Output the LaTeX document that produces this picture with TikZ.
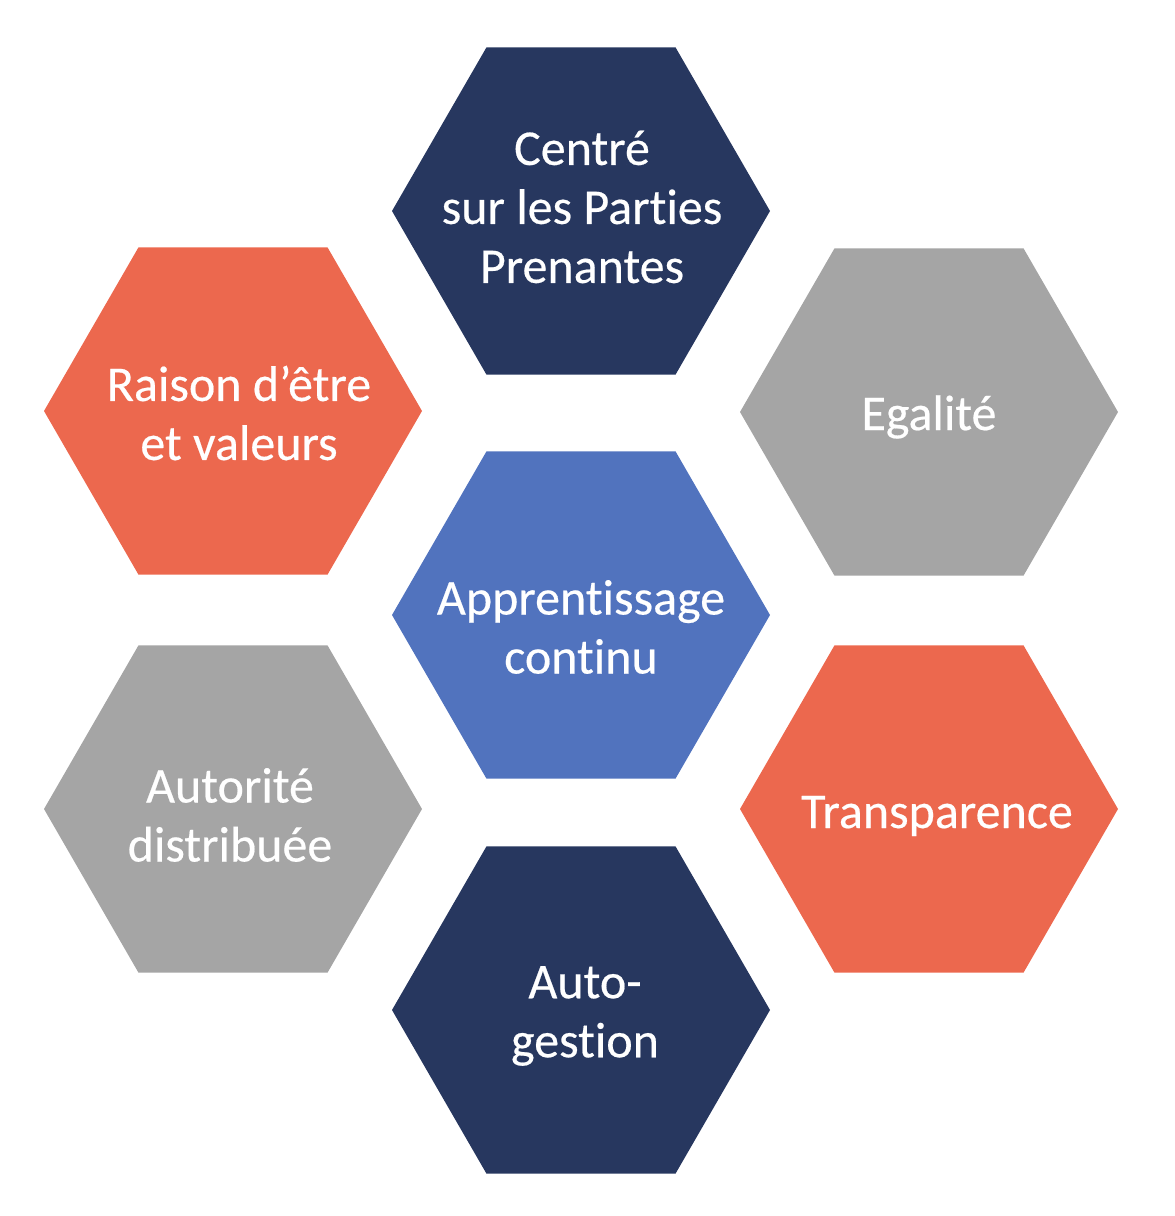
\documentclass[tikz,border=0pt]{standalone}
\usepackage{fontspec}
\setmainfont[Ligatures=NoCommon,FakeBold=0.4]{Carlito}
\usetikzlibrary{shapes.geometric}
\definecolor{navy}{HTML}{27375F}
\definecolor{coral}{HTML}{EC684E}
\definecolor{greyhex}{HTML}{A5A5A5}
\definecolor{bluehex}{HTML}{5173BE}
\tikzset{
  hexa/.style={regular polygon,regular polygon sides=6,minimum size=189pt,inner sep=0pt,outer sep=0pt,draw=none},
  hextext/.style={text=white,align=center,font=\fontsize{25}{29.5}\selectfont}
}
\begin{document}
\begin{tikzpicture}[x=0.5pt,y=-0.5pt]
				\useasboundingbox (0,0) rectangle (1174,1216);
				\node[hexa,fill=navy] (top) at (581,211){};
				\node[hexa,fill=bluehex] (mid) at (581,615){};
				\node[hexa,fill=navy] (bot) at (581,1010){};
				\node[hexa,fill=coral] (ul) at (233,411){};
				\node[hexa,fill=greyhex] (ur) at (929,412){};
				\node[hexa,fill=greyhex] (ll) at (233,809){};
				\node[hexa,fill=coral] (lr) at (929,809){};
				\node[hextext] (toptxt) at (582,207){Centré\\sur les Parties\\Prenantes};
				\node[hextext] (midtxt) at (581,627){Apprentissage\\continu};
				\node[hextext] (bottxt) at (585,1016){Auto-\\gestion};
				\node[hextext] (ultxt) at (239,413){Raison d’être\\et valeurs};
				\node[hextext] (urtxt) at (929,417){Egalité};
				\node[hextext] (lltxt) at (230,815){Autorité\\distribuée};
				\node[hextext] (lrtxt) at (937,816){Transparence};
			\end{tikzpicture}
\end{document}
